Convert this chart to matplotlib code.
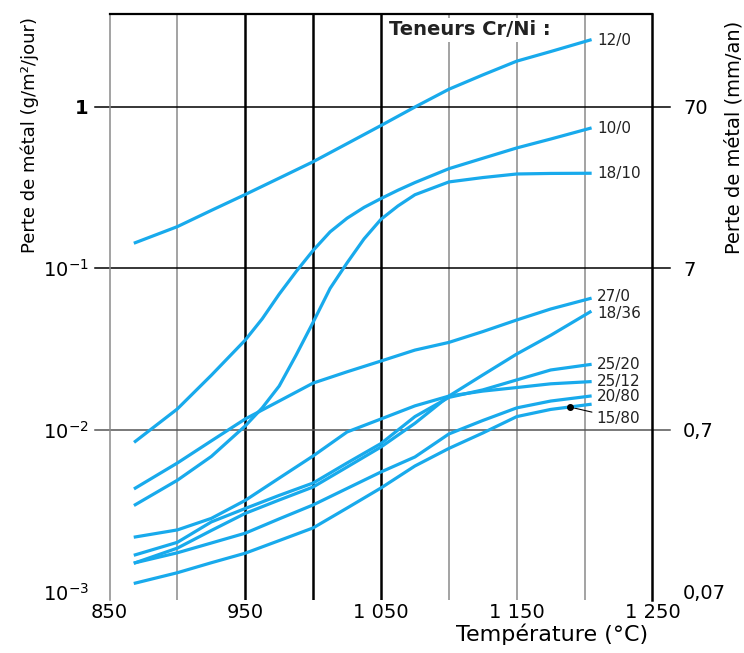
# Perte de metal en fonction de la temperature pour differentes teneurs Cr/Ni

import numpy as np
import matplotlib
matplotlib.use("Agg")
import matplotlib.pyplot as plt
from matplotlib.ticker import NullLocator

# temperatures (degC) where the curves were read
temp = [869, 900, 925, 950, 975, 1000, 1025, 1050, 1075, 1100, 1125, 1150, 1175, 1204]
# the two steep S-shaped curves were read more finely
temp_fine = [869, 900, 925, 950, 962.5, 975, 987.5, 1000, 1012.5, 1025, 1037.5, 1050, 1062.5,
             1075, 1100, 1125, 1150, 1175, 1204]

# metal loss (g/m2/jour), one list per Cr/Ni grade
cr12_ni0 = [0.144, 0.181, 0.228, 0.286, 0.361, 0.456, 0.590, 0.764, 0.994, 1.28, 1.57, 1.91, 2.19, 2.58]
cr10_ni0 = [0.0085, 0.0135, 0.0218, 0.0360, 0.0487, 0.0692, 0.0955, 0.129, 0.168, 0.204, 0.238, 0.270,
            0.304, 0.339, 0.413, 0.479, 0.555, 0.630, 0.734]
cr18_ni10 = [0.00345, 0.00489, 0.00686, 0.0106, 0.0137, 0.0187, 0.0291, 0.0464, 0.0751, 0.108, 0.152,
             0.201, 0.243, 0.285, 0.342, 0.364, 0.383, 0.386, 0.387]
cr27_ni0 = [0.00437, 0.00625, 0.00856, 0.0117, 0.0151, 0.0195, 0.0229, 0.0267, 0.0312, 0.0348, 0.0406, 0.0479, 0.0560, 0.0650]
cr18_ni36 = [0.00151, 0.00186, 0.00239, 0.00305, 0.00369, 0.00444, 0.0059, 0.00785, 0.0110, 0.0162, 0.0219, 0.0295, 0.0385, 0.0537]
cr25_ni20 = [0.00169, 0.00202, 0.0027, 0.00327, 0.00394, 0.0047, 0.00625, 0.00825, 0.0121, 0.0159, 0.0177, 0.0204, 0.0235, 0.0254]
cr25_ni12 = [0.00218, 0.00241, 0.00284, 0.00367, 0.00504, 0.00691, 0.00972, 0.0117, 0.0141, 0.0162, 0.0174, 0.0183, 0.0193, 0.0199]
cr20_ni80 = [0.00151, 0.00174, 0.0020, 0.0023, 0.00282, 0.00344, 0.00435, 0.0055, 0.00681, 0.00945, 0.01145, 0.0137, 0.0151, 0.0162]
cr15_ni80 = [0.00113, 0.00131, 0.00151, 0.00173, 0.00207, 0.00248, 0.00329, 0.00438, 0.00599, 0.00769, 0.00958, 0.0121, 0.0134, 0.0144]

series = [cr12_ni0, cr10_ni0, cr18_ni10, cr27_ni0, cr18_ni36, cr25_ni20, cr25_ni12, cr20_ni80, cr15_ni80]
series_t = [temp, temp_fine, temp_fine, temp, temp, temp, temp, temp, temp]
labels = ["12/0", "10/0", "18/10", "27/0", "18/36", "25/20", "25/12", "20/80", "15/80"]
label_dy = [0, 0, 0, 1.5, -1, 0, 0, 0]  # small nudges, points

x_ticks = [850, 950, 1050, 1150, 1250]
x_ticklabels = ["850", "950", "1 050", "1 150", "1 250"]
y_ticks = [1e-3, 1e-2, 1e-1, 1]
y_ticklabels = [r"$\mathregular{10^{-3}}$", r"$\mathregular{10^{-2}}$", r"$\mathregular{10^{-1}}$", "1"]
y2_ticklabels = ["0,07", "0,7", "7", "70"]

plt.rcParams["font.family"] = "DejaVu Sans"
blue = "#18aaec"

fig = plt.figure(figsize=(7.44, 6.53), dpi=100)
ax = fig.add_axes([0.1472, 0.0812, 0.7298, 0.8974])
ax.set_yscale("log")
ax.set_xlim(850, 1250)
ax.set_ylim(8.886e-4, 3.739)

# grid
for t in [900, 1100, 1150, 1200]:
    ax.axvline(t, color="#8a8a8a", lw=1.1, zorder=1)
for t in [950, 1000, 1050]:
    ax.axvline(t, color="black", lw=1.8, zorder=1)
for v, c in [(1, "black"), (0.1, "black"), (0.01, "#555555")]:
    ax.axhline(v, xmin=-0.027, xmax=1.032, color=c, lw=1.1, clip_on=False, zorder=1)

ax.spines["bottom"].set_visible(False)
ax.spines["left"].set_color("#8a8a8a")
ax.spines["left"].set_linewidth(1.1)
ax.spines["right"].set_linewidth(1.8)
ax.spines["top"].set_linewidth(1.6)

for tt, vals in zip(series_t, series):
    ax.plot(tt, vals, color=blue, lw=2.3, zorder=4, solid_joinstyle="round")

# curve labels
for tt, vals, lab, dy in zip(series_t[:-1], series[:-1], labels[:-1], label_dy):
    ax.annotate(lab, xy=(tt[-1], vals[-1]), xytext=(5, dy), textcoords="offset points",
                ha="left", va="center", fontsize=11, color="#222222")

dot_t = 1189
dot_v = 10 ** np.interp(dot_t, temp, np.log10(cr15_ni80))
ax.plot(dot_t, dot_v, "o", color="black", ms=4, zorder=5)
ax.annotate(labels[-1], xy=(dot_t, dot_v), xytext=(19, -8), textcoords="offset points",
            ha="left", va="center", fontsize=11, color="#222222",
            arrowprops=dict(arrowstyle="-", color="black", lw=0.8, shrinkA=1, shrinkB=0))

ax.text(0.664, 0.973, "Teneurs Cr/Ni :", transform=ax.transAxes, ha="center", va="center",
        fontsize=14, fontweight="bold", color="#222222",
        bbox=dict(facecolor="white", edgecolor="none", pad=2), zorder=3)

# axes ticks
ax.set_xticks(x_ticks)
ax.set_xticklabels(x_ticklabels)
ax.set_yticks(y_ticks)
ax.set_yticklabels(y_ticklabels)
ax.xaxis.set_minor_locator(NullLocator())
ax.yaxis.set_minor_locator(NullLocator())
ax.tick_params(axis="x", length=0, pad=2, labelsize=14)
ax.tick_params(axis="y", length=0, pad=15, labelsize=14)
ax.get_yticklabels()[-1].set_fontweight("bold")

ax2 = ax.twinx()
ax2.set_yscale("log")
ax2.set_ylim(ax.get_ylim())
ax2.set_yticks(y_ticks)
ax2.set_yticklabels(y2_ticklabels)
ax2.yaxis.set_minor_locator(NullLocator())
ax2.tick_params(axis="y", length=0, pad=22, labelsize=14)
for s in ax2.spines.values():
    s.set_visible(False)

fig.text(0.040, 0.793, "Perte de métal (g/m²/jour)", rotation=90, ha="center", va="center", fontsize=13)
fig.text(0.987, 0.79, "Perte de métal (mm/an)", rotation=90, ha="center", va="center", fontsize=14)
fig.text(0.742, 0.028, "Température (°C)", ha="center", va="center", fontsize=16)

fig.savefig("out.png", dpi=100)
print("Completed!")
